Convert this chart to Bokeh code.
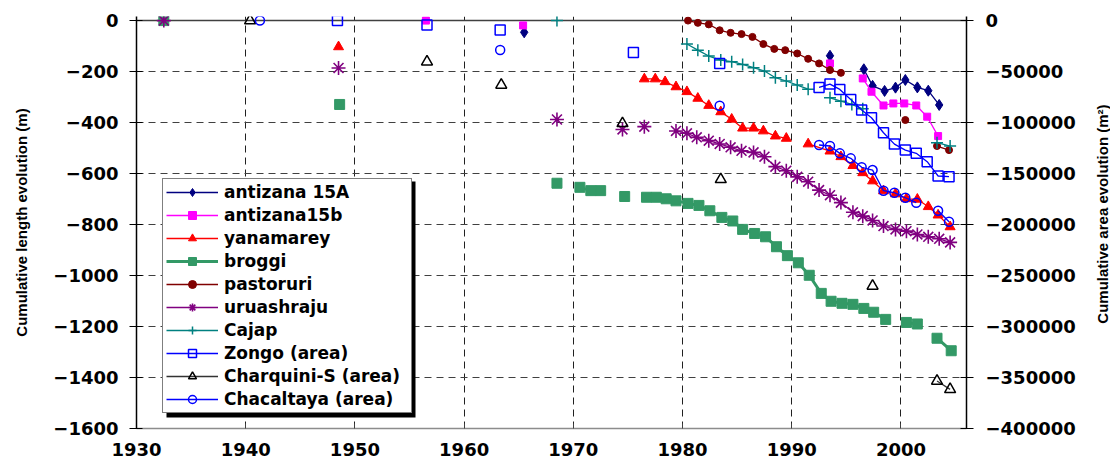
import math
from bokeh.plotting import figure
from bokeh.layouts import row
from bokeh.models import (Range1d, LinearAxis, FixedTicker, BasicTickFormatter,
                          Legend, LegendItem, Span, Label)
from bokeh.embed import file_html
from bokeh.resources import INLINE

nan = float("nan")

# ---------------- data (length series in m, area series in m2) ----------------
ant15a_x = [1965.5, nan, 1993.5, nan, 1996.6, 1997.4, 1998.5, 1999.5, 2000.4, 2001.5, 2002.5, 2003.5]
ant15a_y = [-46, nan, -138, nan, -191, -256, -276, -263, -233, -262, -275, -331]

ant15b_x = [1956.5, nan, 1965.4, nan, 1993.5, nan, 1996.5, 1997.3, 1998.4, 1999.3, 2000.3, 2001.4, 2002.4, 2003.4]
ant15b_y = [0, nan, -19, nan, -168, nan, -227, -279, -333, -325, -325, -333, -377, -453]

yana_x = [1948.5, nan, 1976.5, 1977.5, 1978.4, 1979.4, 1980.4, 1981.4, 1982.4, 1983.5, 1984.5, 1985.5,
          1986.5, 1987.4, 1988.5, 1989.5, nan, 1991.5, 1993.5, 1994.5, 1995.6, 1996.5, 1997.4, 1998.4,
          1999.5, 2000.5, 2001.5, 2002.5, 2003.4, 2004.5]
yana_y = [-103, nan, -229, -229, -240, -260, -279, -305, -333, -358, -387, -422,
          -422, -433, -453, -462, nan, -484, -512, -534, -569, -597, -629, -668,
          -680, -699, -701, -730, -763, -809]

broggi_x = [1932.5, nan, 1948.6, nan, 1968.5, nan, 1970.6, 1971.6, 1972.5, nan, 1974.7, nan,
            1976.7, 1977.6, 1978.5, 1979.4, 1980.5, 1981.5, 1982.5, 1983.6, 1984.6, 1985.5, 1986.6,
            1987.6, 1988.6, 1989.6, 1990.6, 1991.6, 1992.7, 1993.6, 1994.6, 1995.6, 1996.6, 1997.5,
            1998.6, nan, 2000.5, 2001.5, nan, 2003.3, 2004.6]
broggi_y = [0, nan, -329, nan, -638, nan, -654, -667, -667, nan, -690, nan,
            -693, -693, -699, -707, -717, -725, -746, -772, -786, -819, -835,
            -848, -887, -922, -950, -999, -1070, -1101, -1109, -1113, -1129, -1144,
            -1172, nan, -1184, -1190, nan, -1246, -1295]

pasto_x = [1980.5, 1981.4, 1982.4, 1983.4, 1984.4, 1985.4, 1986.4, 1987.4, 1988.4, 1989.4, 1990.5,
           1991.5, 1992.5, 1993.5, 1994.5, nan, 2000.4, nan, 2003.3, 2004.4]
pasto_y = [0, -9, -15, -38, -48, -53, -64, -92, -111, -116, -129,
           -150, -168, -194, -205, nan, -390, nan, -492, -508]

urua_x = [1932.5, nan, 1948.5, nan, 1968.5, nan, 1974.5, nan, 1976.5, nan,
          1979.4, 1980.4, 1981.3, 1982.4, 1983.4, 1984.4, 1985.4, 1986.5, 1987.5, 1988.5, 1989.5,
          1990.5, 1991.5, 1992.5, 1993.5, 1994.5, 1995.6, 1996.5, 1997.4, 1998.4, 1999.5, 2000.5,
          2001.5, 2002.5, 2003.5, 2004.5]
urua_y = [0, nan, -186, nan, -388, nan, -427, nan, -416, nan,
          -433, -442, -458, -471, -484, -497, -511, -517, -534, -573, -589,
          -613, -632, -665, -685, -714, -752, -767, -784, -806, -819, -826,
          -839, -848, -856, -870]

cajap_x = [1968.5, nan, 1980.4, 1981.4, 1982.4, 1983.5, 1984.5, 1985.5, 1986.5, 1987.5, 1988.5,
           1989.5, 1990.5, 1991.5, nan, 1993.5, 1994.5, 1995.5, 1996.5, nan, 2003.3, 2004.5]
cajap_y = [0, nan, -92, -116, -139, -155, -161, -172, -185, -198, -224,
           -237, -253, -269, nan, -303, -316, -329, -346, nan, -479, -492]

zongo_x = [1948.4, nan, 1956.6, nan, 1963.3, nan, 1975.5, nan, 1983.4, nan, 1992.5, 1993.5, 1994.4,
           1995.4, 1996.4, 1997.3, 1998.4, 1999.4, 2000.4, 2001.4, 2002.4, 2003.4, 2004.4]
zongo_y = [0, nan, -4400, nan, -9300, nan, -31200, nan, -42000, nan, -65500, -62300, -67500,
           -77300, -87700, -95300, -110000, -121100, -127000, -130200, -138400, -152400, -153100]

charq_x = [1940.4, nan, 1956.6, nan, 1963.4, nan, 1974.5, nan, 1983.5, nan, 1997.4, nan, 2003.3, 2004.5]
charq_y = [0, nan, -40400, nan, -63200, nan, -100800, nan, -155700, nan, -260300, nan, -353400, -361600]

chaca_x = [1941.3, nan, 1963.3, nan, 1983.4, nan, 1992.5, 1993.5, 1994.4, 1995.4, 1996.4, 1997.4,
           1998.4, 1999.4, 2000.4, 2001.4, nan, 2003.4, 2004.4]
chaca_y = [0, nan, -28900, nan, -83500, nan, -122000, -123000, -130200, -135100, -143900, -146600,
           -166800, -168800, -173700, -178600, nan, -186400, -197200]

x_ticks = [1930, 1940, 1950, 1960, 1970, 1980, 1990, 2000]
len_ticks = [0, -200, -400, -600, -800, -1000, -1200, -1400, -1600]
area_ticks = [0, -50000, -100000, -150000, -200000, -250000, -300000, -350000, -400000]

# ---------------- layout ----------------
W, H = 1094, 463
BL, BR, BT, BB = 136, 128, 16, 35
TW = 16                       # width of the strip holding the right-hand title
X0, X1 = 1930, 2006
Y0, Y1 = -1600, 16
A0, A1 = -400000, 4000
FONT = "DejaVu Sans"

p = figure(width=W, height=H, x_range=Range1d(X0, X1), y_range=Range1d(Y0, Y1),
           output_backend="svg", toolbar_location=None,
           min_border_left=BL, min_border_right=BR, min_border_top=BT, min_border_bottom=BB)
p.extra_y_ranges = {"area": Range1d(A0, A1)}
p.outline_line_color = None
p.background_fill_color = "white"
p.border_fill_color = "white"

FW = W - BL - BR
FH = H - BT - BB
def fx(px):  # figure px -> data x (decorations only)
    return X0 + (px - BL) * (X1 - X0) / FW
def fy(py):  # figure px -> data y (decorations only)
    return Y1 - (py - BT) * (Y1 - Y0) / FH

# grids
p.xgrid.grid_line_color = "#202020"
p.xgrid.grid_line_dash = "7 5"
p.xgrid.grid_line_width = 1
p.ygrid.grid_line_color = "#404040"
p.ygrid.grid_line_dash = "7 5"
p.ygrid.grid_line_width = 1

# axes
xa = p.xaxis[0]
xa.ticker = FixedTicker(ticks=x_ticks)
xa.formatter = BasicTickFormatter(use_scientific=False)
xa.axis_line_color = "#8c8c8c"
xa.axis_line_width = 1.5
xa.major_tick_in = 5
xa.major_tick_out = 0
xa.major_tick_line_color = "#404040"
xa.minor_tick_line_color = None
xa.major_label_standoff = 14
xa.major_label_text_font = FONT
xa.major_label_text_font_style = "bold"
xa.major_label_text_font_size = "18px"
xa.major_label_text_color = "black"

ya = p.yaxis[0]
ya.ticker = FixedTicker(ticks=len_ticks)
ya.formatter = BasicTickFormatter(use_scientific=False)
ya.axis_line_color = "black"
ya.axis_line_width = 1.5
ya.major_tick_in = 6
ya.major_tick_out = 7
ya.major_tick_line_color = "black"
ya.minor_tick_line_color = None
ya.major_label_standoff = 11
ya.major_label_text_font = FONT
ya.major_label_text_font_style = "bold"
ya.major_label_text_font_size = "18px"
ya.major_label_text_color = "black"
ya.axis_label = "Cumulative length evolution (m)"
ya.axis_label_text_font = "Liberation Sans"
ya.axis_label_text_font_style = "bold"
ya.axis_label_text_font_size = "15px"
ya.axis_label_text_color = "black"
ya.axis_label_standoff = 20

ra = LinearAxis(y_range_name="area", ticker=FixedTicker(ticks=area_ticks),
                formatter=BasicTickFormatter(use_scientific=False))
ra.axis_line_color = "black"
ra.axis_line_width = 1.5
ra.major_tick_in = 6
ra.major_tick_out = 7
ra.major_tick_line_color = "black"
ra.minor_tick_line_color = None
ra.major_label_standoff = 12
ra.major_label_text_font = FONT
ra.major_label_text_font_style = "bold"
ra.major_label_text_font_size = "18px"
ra.major_label_text_color = "black"
p.add_layout(ra, "right")

# zero line
p.add_layout(Span(location=0, dimension="width", line_color="#404040", line_width=1.5, level="underlay"))

# legend geometry + shadow (decoration)
LEG_L, LEG_B = 26, 15
LEG_W, LEG_H = 249, 236
SH = 4
p.quad(left=fx(BL + LEG_L + SH), right=fx(BL + LEG_L + LEG_W + SH),
       top=fy(BT + FH - LEG_B - LEG_H + SH), bottom=fy(BT + FH - LEG_B + SH),
       fill_color="black", line_color=None)

# ---------------- series ----------------
def series(x, y, color, marker, size, lw=1.3, fill="same", mlw=1.0, yr=None, lcolor=None):
    kw = {"y_range_name": yr} if yr else {}
    fc = color if fill == "same" else fill
    l = p.line(x, y, line_color=lcolor or color, line_width=lw, **kw)
    s = p.scatter(x, y, marker=marker, size=size, line_color=color, fill_color=fc,
                  line_width=mlw, **kw)
    return [l, s]

r_ant15a = series(ant15a_x, ant15a_y, "#000080", "diamond", 11)
r_ant15b = series(ant15b_x, ant15b_y, "#ff00ff", "square", 7)
r_yana = series(yana_x, yana_y, "#ff0000", "triangle", 10)
r_broggi = series(broggi_x, broggi_y, "#339966", "square", 10, lw=3)
r_pasto = series(pasto_x, pasto_y, "#800000", "circle", 7)
r_urua = series(urua_x, urua_y, "#800080", "asterisk", 14, mlw=1.6)
r_cajap = series(cajap_x, cajap_y, "#008080", "cross", 12, mlw=1.5)
r_zongo = series(zongo_x, zongo_y, "#0000ff", "square", 10, fill=None, mlw=1.5, yr="area")
r_charq = series(charq_x, charq_y, "black", "triangle", 11, fill=None, mlw=1.5, yr="area", lcolor="#333333")
r_chaca = series(chaca_x, chaca_y, "#0000ff", "circle", 9, fill=None, mlw=1.5, yr="area")

items = [
    LegendItem(label="antizana 15A", renderers=r_ant15a),
    LegendItem(label="antizana15b", renderers=r_ant15b),
    LegendItem(label="yanamarey", renderers=r_yana),
    LegendItem(label="broggi", renderers=r_broggi),
    LegendItem(label="pastoruri", renderers=r_pasto),
    LegendItem(label="uruashraju", renderers=r_urua),
    LegendItem(label="Cajap", renderers=r_cajap),
    LegendItem(label="Zongo (area)", renderers=r_zongo),
    LegendItem(label="Charquini-S (area)", renderers=r_charq),
    LegendItem(label="Chacaltaya (area)", renderers=r_chaca),
]
legend = Legend(items=items, location=(LEG_L, LEG_B), margin=0, padding=3, spacing=3,
                glyph_width=52, glyph_height=20, label_height=20, label_standoff=6, label_width=184,
                label_text_font=FONT, label_text_font_style="bold", label_text_font_size="17px",
                label_text_color="black",
                border_line_color="black", border_line_width=1,
                background_fill_color="white", background_fill_alpha=1.0)
p.add_layout(legend)

# ---------------- right-hand axis title (own narrow strip, reads bottom to top) ----------------
t = figure(width=TW, height=H, x_range=Range1d(0, 1), y_range=Range1d(0, 1),
           x_axis_type=None, y_axis_type=None, output_backend="svg", toolbar_location=None,
           min_border=0)
t.outline_line_color = None
t.grid.visible = False
t.add_layout(Label(x=0.5, y=1 - (BT + FH / 2) / H, text="Cumulative area evolution (m²)",
                   angle=math.pi / 2, text_align="center", text_baseline="middle",
                   text_font="Liberation Sans", text_font_style="bold", text_font_size="15px",
                   text_color="black"))

layout = row(p, t)
open("out.html", "w").write(file_html(layout, INLINE))
